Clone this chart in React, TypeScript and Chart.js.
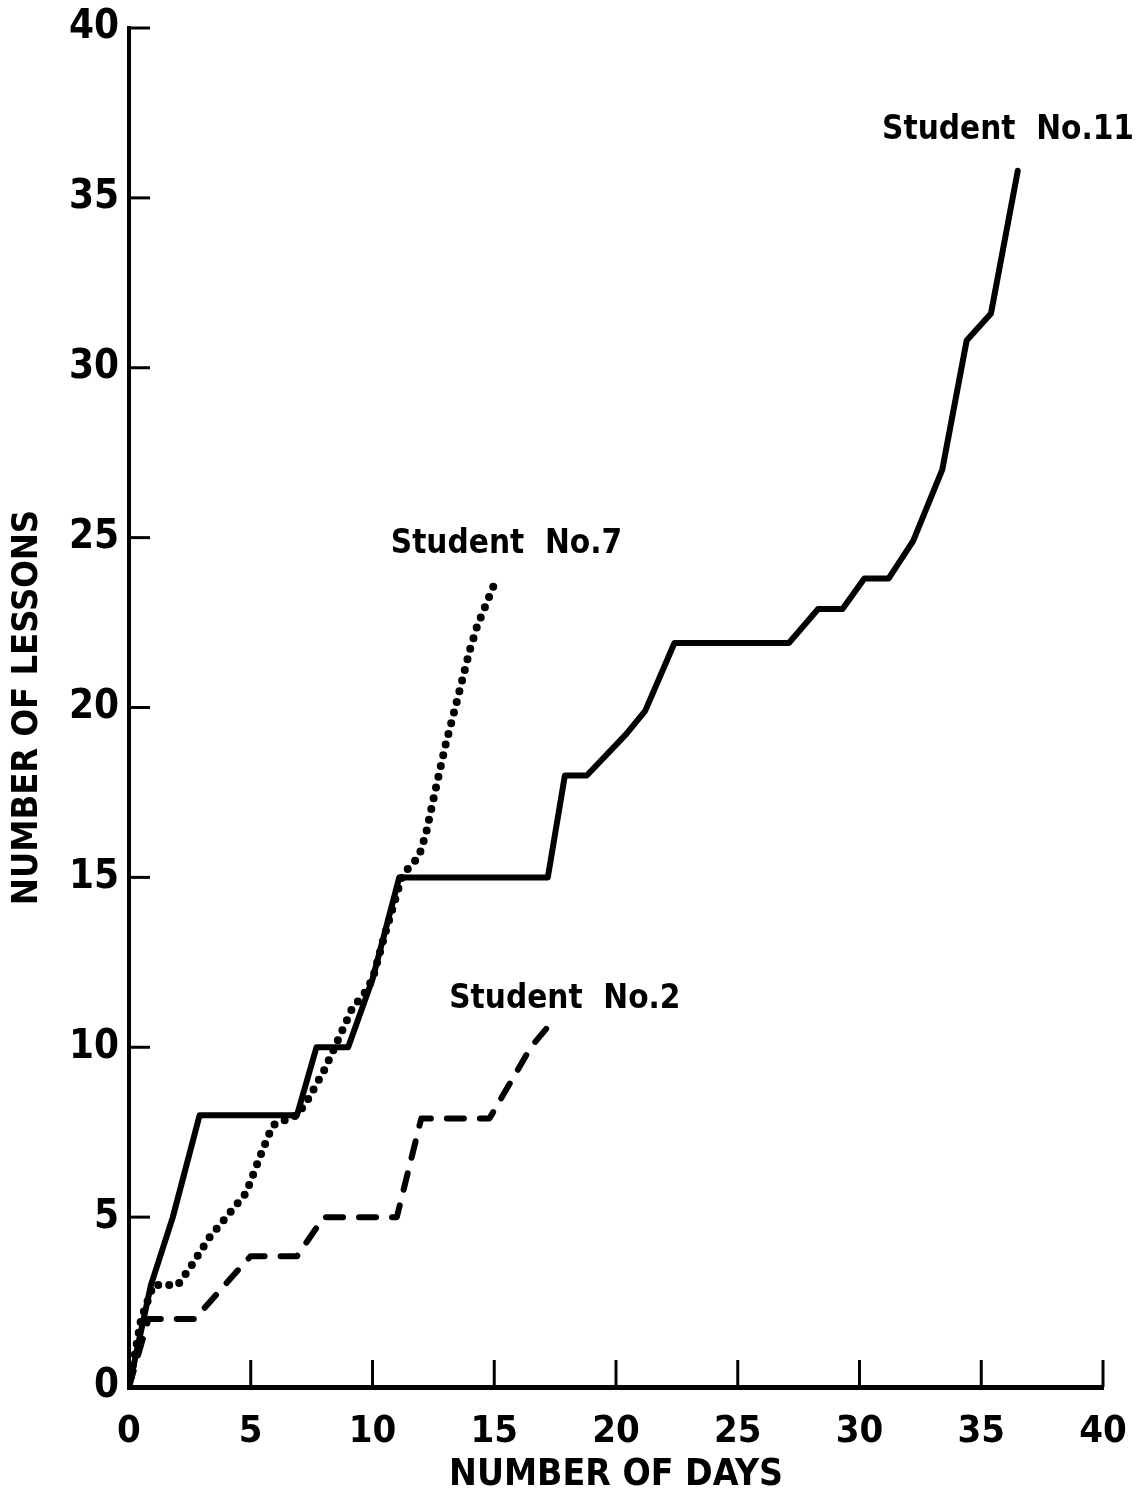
import React, { useEffect, useRef } from "react";
import { Chart, registerables } from "chart.js";

Chart.register(...registerables);

// ---- data ----
const axisTicks = [0, 5, 10, 15, 20, 25, 30, 35, 40];

const student11Days = [0, 0.9, 1.8, 2.9, 6.9, 7.7, 9.0, 10.0, 11.1, 17.2, 17.9, 18.8, 20.4, 21.2, 22.4, 27.1, 28.3, 29.3, 30.2, 31.2, 32.2, 33.4, 34.4, 35.4, 36.5];
const student11Lessons = [0, 3, 5, 8, 8, 10, 10, 12, 15, 15, 18, 18, 19.2, 19.9, 21.9, 21.9, 22.9, 22.9, 23.8, 23.8, 24.9, 27, 30.8, 31.6, 35.8];

const student7Days = [0, 0.5, 1.0, 2.0, 2.5, 3.3, 4.0, 4.8, 5.5, 5.9, 6.9, 7.3, 8.0, 8.7, 9.2, 9.6, 10.0, 10.5, 11.2, 11.5, 11.9, 12.2, 12.5, 13.0, 13.4, 14.0, 14.3, 14.7, 15.1];
const student7Lessons = [0, 2, 3, 3, 3.5, 4.4, 5.0, 5.7, 7.0, 7.7, 8.0, 8.4, 9.3, 10.4, 11.2, 11.5, 12.0, 13.3, 15.0, 15.3, 15.6, 16.3, 17.3, 18.9, 20.0, 21.7, 22.4, 23.1, 23.8];

const student2Days = [0, 0.8, 2.7, 3.5, 4.8, 5.0, 6.9, 8.0, 11.0, 12.0, 14.8, 16.1, 16.5, 17.2];
const student2Lessons = [0, 2, 2, 2.65, 3.7, 3.85, 3.85, 5.0, 5.0, 7.9, 7.9, 9.5, 10, 10.6];

const seriesNames = ["Student  No.11", "Student  No.7", "Student  No.2"];
const labelDays = [36.1, 15.5, 17.9];
const labelLessons = [37.0, 24.8, 11.4];

const xTitle = "NUMBER OF DAYS";
const yTitle = "NUMBER OF LESSONS";

const FONT = "'DejaVu Sans Condensed', 'Liberation Sans Narrow', 'DejaVu Sans', sans-serif";

const toPoints = (xs: number[], ys: number[]) => xs.map((x, i) => ({ x, y: ys[i] }));

const decorPlugin = {
  id: "decor",
  afterDraw(chart: any) {
    const { ctx } = chart;
    const xs = chart.scales.x;
    const ys = chart.scales.y;
    const x0 = xs.getPixelForValue(0);
    const y0 = ys.getPixelForValue(0);
    ctx.save();
    ctx.strokeStyle = "#000";
    ctx.lineWidth = 3;
    axisTicks.forEach((v) => {
      if (v === 0) return;
      const px = xs.getPixelForValue(v);
      ctx.beginPath();
      ctx.moveTo(px, y0);
      ctx.lineTo(px, y0 - 27);
      ctx.stroke();
      const py = ys.getPixelForValue(v);
      ctx.beginPath();
      ctx.moveTo(x0, py);
      ctx.lineTo(x0 + 21, py);
      ctx.stroke();
    });
    ctx.fillStyle = "#000";
    ctx.font = `bold 33px ${FONT}`;
    ctx.textAlign = "center";
    ctx.textBaseline = "middle";
    seriesNames.forEach((name, i) => {
      ctx.fillText(name, xs.getPixelForValue(labelDays[i]), ys.getPixelForValue(labelLessons[i]));
    });
    ctx.restore();
  },
};

export default function App() {
  const ref = useRef<HTMLCanvasElement>(null);
  useEffect(() => {
    if (!ref.current) return;
    const chart = new Chart(ref.current, {
      type: "line",
      data: {
        datasets: [
          {
            label: seriesNames[0],
            data: toPoints(student11Days, student11Lessons),
            borderColor: "#000",
            borderWidth: 6,
            borderJoinStyle: "round",
            borderCapStyle: "round",
            pointRadius: 0,
            tension: 0,
          },
          {
            label: seriesNames[1],
            data: toPoints(student7Days, student7Lessons),
            borderColor: "#000",
            borderWidth: 8,
            borderDash: [0, 11],
            borderCapStyle: "round",
            pointRadius: 0,
            tension: 0,
          },
          {
            label: seriesNames[2],
            data: toPoints(student2Days, student2Lessons),
            borderColor: "#000",
            borderWidth: 6,
            borderDash: [17, 16],
            borderCapStyle: "round",
            borderJoinStyle: "round",
            pointRadius: 0,
            tension: 0,
          },
        ],
      },
      options: {
        animation: false,
        responsive: false,
        layout: { padding: { top: 28, right: 34, left: 0, bottom: 0 } },
        plugins: { legend: { display: false }, tooltip: { enabled: false } },
        scales: {
          x: {
            type: "linear",
            min: 0,
            max: 40,
            afterFit: (s: any) => { s.height = 111; s.paddingLeft = 0; s.paddingRight = 0; },
            grid: { display: false },
            border: { display: true, color: "#000", width: 5 },
            ticks: {
              stepSize: 5,
              color: "#000",
              padding: 14,
              font: { family: FONT, size: 38, weight: "bold" },
            },
            title: {
              display: true,
              text: xTitle,
              color: "#000",
              padding: { top: 0, bottom: 0 },
              font: { family: FONT, size: 37, weight: "bold" },
            },
          },
          y: {
            type: "linear",
            min: 0,
            max: 40,
            afterFit: (s: any) => { s.width = 129; s.paddingTop = 0; s.paddingBottom = 0; },
            grid: { display: false },
            border: { display: true, color: "#000", width: 4 },
            ticks: {
              stepSize: 5,
              color: "#000",
              padding: 2,
              font: { family: FONT, size: 40, weight: "bold" },
            },
            title: {
              display: true,
              text: yTitle,
              color: "#000",
              padding: { top: 6, bottom: 0 },
              font: { family: FONT, size: 36, weight: "bold" },
            },
          },
        },
      },
      plugins: [decorPlugin],
    } as any);
    return () => chart.destroy();
  }, []);
  return (
    <div style={{ position: "absolute", left: 0, top: 0, width: 1137, height: 1498, background: "#fff" }}>
      <canvas ref={ref} width={1137} height={1498} style={{ display: "block" }} />
    </div>
  );
}
